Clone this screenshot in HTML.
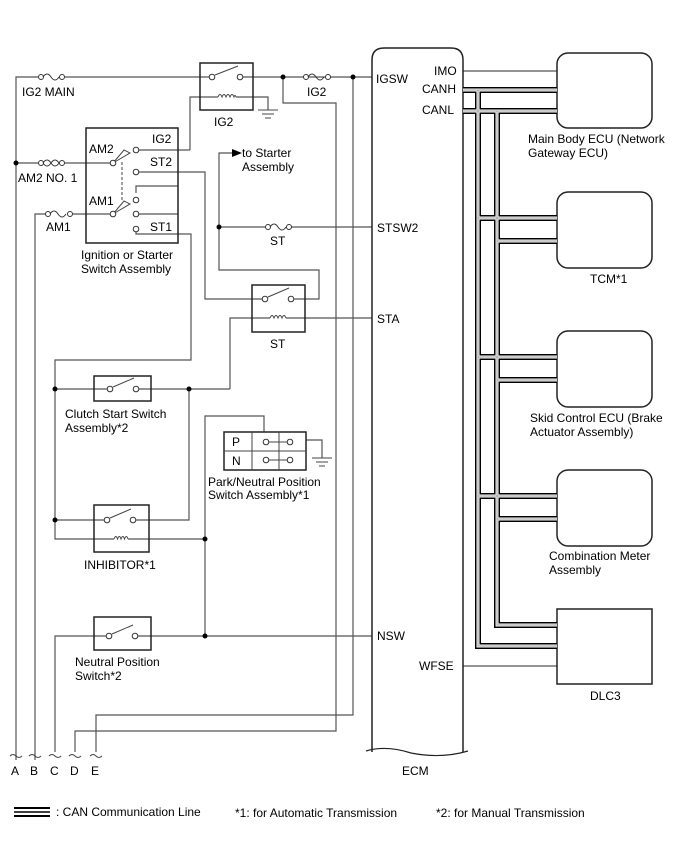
<!DOCTYPE html>
<html><head><meta charset="utf-8"><style>
html,body{margin:0;padding:0;background:#fff;}
svg{display:block;}
text{font-family:"Liberation Sans",Arial,sans-serif;font-size:12px;fill:#000;}
</style></head><body>
<svg width="688" height="852" viewBox="0 0 688 852" xmlns="http://www.w3.org/2000/svg">
<g fill="none" stroke="#555" stroke-width="1.2">
<path d="M16,760 V77 H38 M65,77 H212"/>
<path d="M240,77 H372"/>
<path d="M283,77 V103 H336 V731 H75 V752"/>
<path d="M353,77 V715 H96 V752"/>
<path d="M190,150 V97 H218 M236,97 H268 V110"/>
<path d="M16,163 H38 M65,163 H113"/>
<path d="M35,760 V214 H45 M73,214 H113"/>
<path d="M136,150 H190"/>
<path d="M136,172 H205 V299 H265"/>
<path d="M136,193 V186 H178 M136,214 H178"/>
<path d="M136,229 V234 H191 V360 H55 V539 H94"/>
<path d="M291,299 H319 V270 H219 V153 H232"/>
<path d="M219,227 H265 M291,227 H372"/>
<path d="M230,389 V318 H270 M286,318 H372"/>
<path d="M55,389 H110 M136,389 H230"/>
<path d="M189,389 V520 H133 M107,520 H55"/>
<path d="M94,539 H114 M128,539 H205"/>
<path d="M205,636 V416 H264 V432"/>
<path d="M306,440 H322 V458"/>
<path d="M55,752 V636 H109 M135,636 H372"/>
<path d="M463,71 H557 M463,666 H557"/>
</g>
<g fill="#fff" stroke="#333" stroke-width="1">
<circle cx="41" cy="77" r="2.5"/><circle cx="62" cy="77" r="2.5"/>
<circle cx="306" cy="77" r="2.5"/><circle cx="328" cy="77" r="2.5"/>
<circle cx="41" cy="163" r="2.5"/><circle cx="62" cy="163" r="2.5"/>
<circle cx="48" cy="214" r="2.5"/><circle cx="70" cy="214" r="2.5"/>
<circle cx="268" cy="227" r="2.5"/><circle cx="289" cy="227" r="2.5"/>
</g>
<g fill="none" stroke="#333" stroke-width="1">
<path d="M43,77 q4,-6 8,0 t8,0"/><path d="M308,77 q4,-6 8,0 t8,0"/>
<path d="M43,163 q4,-6 8,0 t8,0 M43,163 q4,6 8,0 t8,0"/>
<path d="M50,214 q4,-6 8,0 t8,0"/><path d="M270,227 q4,-6 8,0 t8,0"/>
</g>
<g fill="#000">
<circle cx="283" cy="77" r="2.5"/><circle cx="353" cy="77" r="2.5"/><circle cx="16" cy="163" r="2.5"/>
<circle cx="219" cy="227" r="2.5"/><circle cx="55" cy="389" r="2.5"/><circle cx="189" cy="389" r="2.5"/>
<circle cx="55" cy="520" r="2.5"/><circle cx="205" cy="539" r="2.5"/><circle cx="205" cy="636" r="2.5"/>
<path d="M232,149 L242,153 L232,157Z"/>
</g>
<g fill="none" stroke="#222" stroke-width="1.5">
<rect x="200" y="63" width="53" height="47"/>
<rect x="86" y="128" width="92" height="115"/>
<rect x="252" y="285" width="53" height="47"/>
<rect x="94" y="376" width="57" height="25"/>
<rect x="94" y="505" width="55" height="47"/>
<rect x="94" y="617" width="57" height="33"/>
<rect x="224" y="432" width="82" height="38"/>
</g>
<g fill="none" stroke="#444" stroke-width="1">
<path d="M224,451 H306 M252,432 V470 M279,432 V470"/>
<path d="M269,442 H287 M269,460 H287"/>
<path d="M258,110 H278 M262,114 H274 M265,118 H271"/>
<path d="M312,458 H332 M316,462 H328 M319,466 H325"/>
<path d="M215,75 L238,66 M268,297 L289,288 M113,387 L134,378 M110,518 L131,509 M112,634 L133,625"/>
<path d="M218,97 q2,-5 4,0 q2,-5 4,0 q2,-5 4,0 q2,-5 4,0 q1,-3 2,0"/>
<path d="M270,318 q2,-5 4,0 q2,-5 4,0 q2,-5 4,0 q2,-5 4,0"/>
<path d="M114,539 q2,-5 3.5,0 q2,-5 3.5,0 q2,-5 3.5,0 q2,-5 3.5,0"/>
<path d="M113,163 L124,150 L130,153 Z M113,214 L124,201 L130,204 Z"/>
<path d="M122,162 V200" stroke-dasharray="3,2"/>
</g>
<g fill="#fff" stroke="#333" stroke-width="1">
<circle cx="212" cy="77" r="2.8"/><circle cx="240" cy="77" r="2.8"/>
<circle cx="265" cy="299" r="2.8"/><circle cx="291" cy="299" r="2.8"/>
<circle cx="110" cy="389" r="2.8"/><circle cx="136" cy="389" r="2.8"/>
<circle cx="107" cy="520" r="2.8"/><circle cx="133" cy="520" r="2.8"/>
<circle cx="109" cy="636" r="2.8"/><circle cx="135" cy="636" r="2.8"/>
<circle cx="266" cy="442" r="2.8"/><circle cx="290" cy="442" r="2.8"/>
<circle cx="266" cy="460" r="2.8"/><circle cx="290" cy="460" r="2.8"/>
<circle cx="113" cy="163" r="2.8"/><circle cx="136" cy="150" r="2.8"/><circle cx="136" cy="172" r="2.8"/>
<circle cx="113" cy="214" r="2.8"/><circle cx="136" cy="200" r="2.8"/><circle cx="136" cy="214" r="2.8"/><circle cx="136" cy="229" r="2.8"/>
</g>
<g fill="none" stroke="#444" stroke-width="1">
<path d="M10,756 q3,-3 6,0 t6,0 M29,756 q3,-3 6,0 t6,0 M49,756 q3,-3 6,0 t6,0 M69,756 q3,-3 6,0 t6,0 M90,756 q3,-3 6,0 t6,0"/>
</g>
<path d="M372,752 V60 q0,-12 12,-12 H451 q12,0 12,12 V752" fill="none" stroke="#222" stroke-width="1.5"/>
<path d="M366,751 q20,-6 45,2 q30,6 57,-2" fill="none" stroke="#222" stroke-width="1.2"/>
<g fill="none" stroke="#222" stroke-width="1.5">
<rect x="557" y="53" width="95" height="75" rx="11"/>
<rect x="557" y="192" width="95" height="76" rx="11"/>
<rect x="557" y="331" width="95" height="76" rx="11"/>
<rect x="557" y="470" width="95" height="76" rx="11"/>
<rect x="557" y="609" width="95" height="75"/>
</g>
<g fill="none">
<g stroke="#000" stroke-width="6">
<path d="M463,90 H557 M478,90 V646 H557"/>
<path d="M463,111 H557 M497,111 V625 H557"/>
<path d="M478,218 H557 M478,357 H557 M478,496 H557"/>
<path d="M497,241 H557 M497,380 H557 M497,519 H557"/>
</g>
<g stroke="#fff" stroke-width="3">
<path d="M463,90 H557 M478,90 V646 H557"/>
<path d="M463,111 H557 M497,111 V625 H557"/>
<path d="M478,218 H557 M478,357 H557 M478,496 H557"/>
<path d="M497,241 H557 M497,380 H557 M497,519 H557"/>
</g>
<g stroke="#999" stroke-width="1">
<path d="M463,90 H557 M478,90 V646 H557"/>
<path d="M463,111 H557 M497,111 V625 H557"/>
<path d="M478,218 H557 M478,357 H557 M478,496 H557"/>
<path d="M497,241 H557 M497,380 H557 M497,519 H557"/>
</g>
</g>
<g stroke="#000"><path d="M14,808 H50" stroke-width="2"/><path d="M14,812 H50" stroke-width="1.5"/><path d="M14,816 H50" stroke-width="2"/></g>
<text x="22" y="96">IG2 MAIN</text>
<text x="214" y="126">IG2</text>
<text x="307" y="96">IG2</text>
<text x="152" y="143">IG2</text>
<text x="89" y="153">AM2</text>
<text x="150" y="166">ST2</text>
<text x="18" y="182">AM2 NO. 1</text>
<text x="89" y="205">AM1</text>
<text x="150" y="231">ST1</text>
<text x="46" y="231">AM1</text>
<text x="81" y="259">Ignition or Starter</text>
<text x="81" y="273">Switch Assembly</text>
<text x="242" y="157">to Starter</text>
<text x="242" y="171">Assembly</text>
<text x="270" y="245">ST</text>
<text x="270" y="348">ST</text>
<text x="65" y="418">Clutch Start Switch</text>
<text x="65" y="432">Assembly*2</text>
<text x="232" y="446">P</text>
<text x="232" y="465">N</text>
<text x="208" y="486">Park/Neutral Position</text>
<text x="208" y="499">Switch Assembly*1</text>
<text x="84" y="569">INHIBITOR*1</text>
<text x="75" y="666">Neutral Position</text>
<text x="75" y="680">Switch*2</text>
<text x="11" y="775">A</text><text x="30" y="775">B</text><text x="50" y="775">C</text><text x="70" y="775">D</text><text x="91" y="775">E</text>
<text x="376" y="83">IGSW</text>
<text x="434" y="75">IMO</text>
<text x="422" y="93">CANH</text>
<text x="422" y="114">CANL</text>
<text x="377" y="232">STSW2</text>
<text x="377" y="323">STA</text>
<text x="377" y="640">NSW</text>
<text x="419" y="670">WFSE</text>
<text x="402" y="775">ECM</text>
<text x="528" y="143">Main Body ECU (Network</text>
<text x="528" y="157">Gateway ECU)</text>
<text x="590" y="283">TCM*1</text>
<text x="530" y="422">Skid Control ECU (Brake</text>
<text x="530" y="436">Actuator Assembly)</text>
<text x="549" y="560">Combination Meter</text>
<text x="549" y="574">Assembly</text>
<text x="590" y="700">DLC3</text>
<text x="56" y="816">: CAN Communication Line</text>
<text x="235" y="817">*1: for Automatic Transmission</text>
<text x="436" y="817">*2: for Manual Transmission</text>
</svg>
</body></html>
